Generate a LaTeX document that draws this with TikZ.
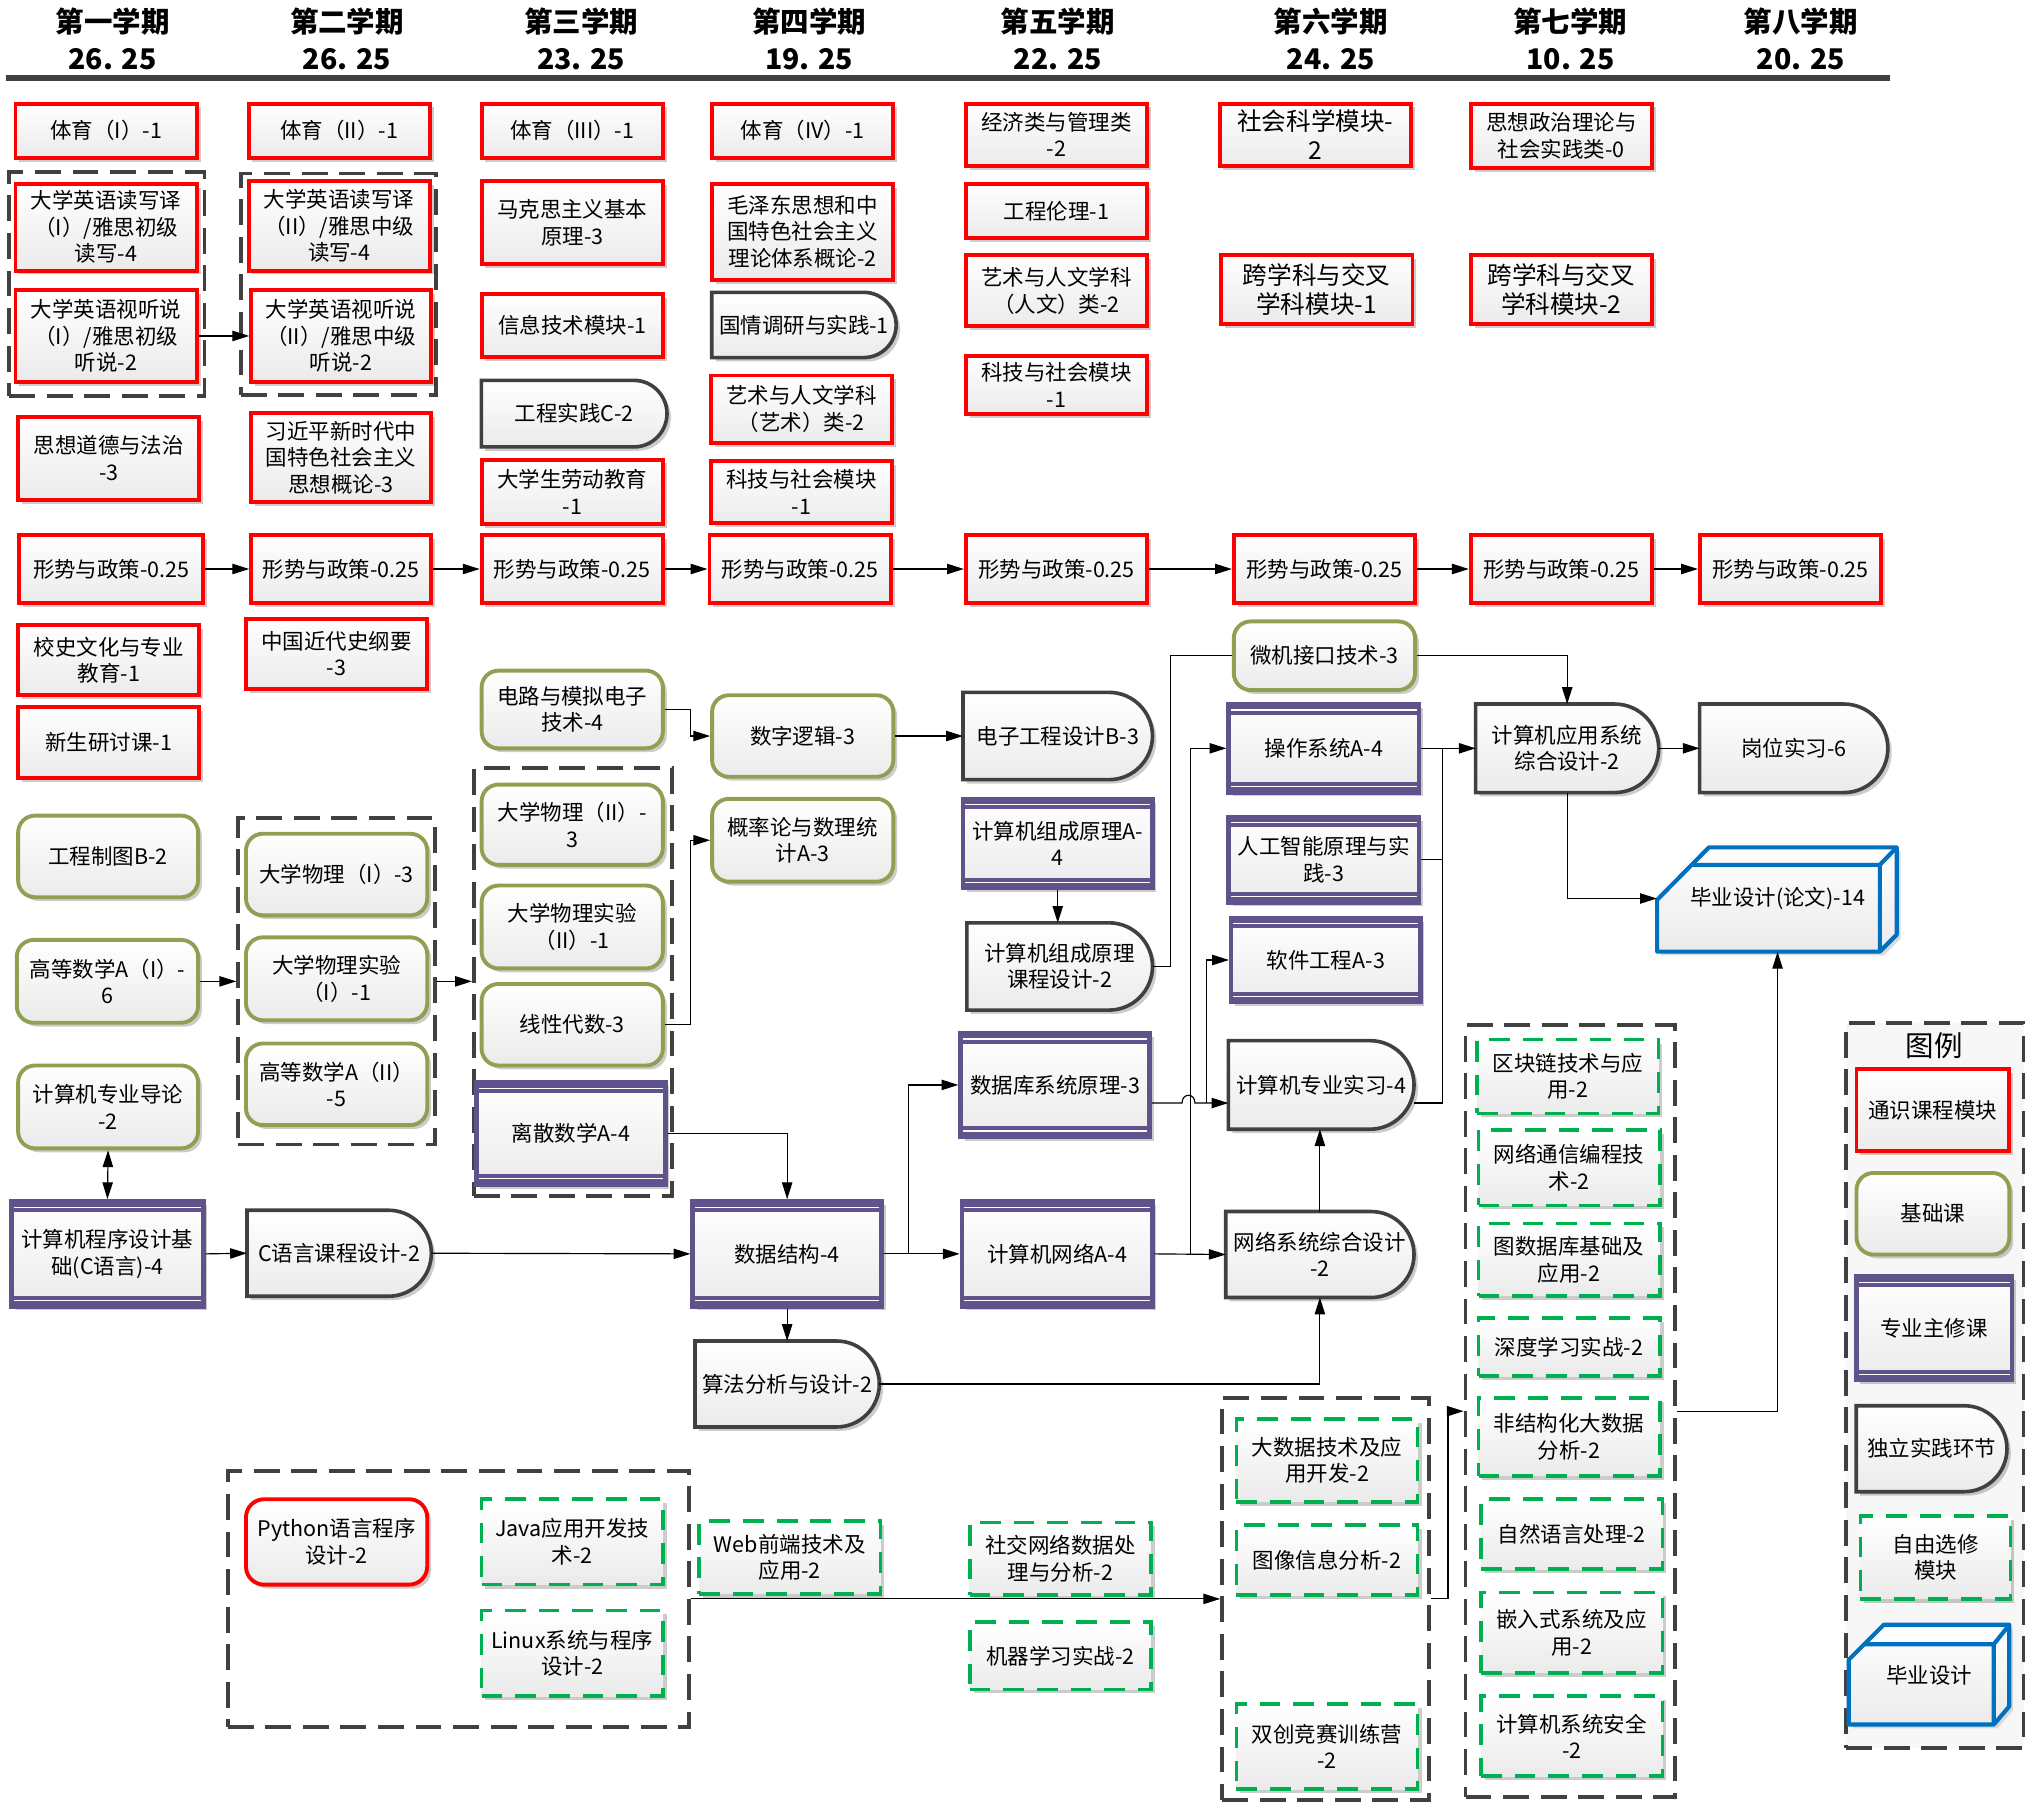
\documentclass[tikz,border=0pt]{standalone}
\usepackage{fontspec}
\setmainfont{Noto Sans CJK SC}
\usetikzlibrary{arrows.meta,shadows,calc}
\definecolor{tred}{RGB}{255,0,0}
\definecolor{olv}{RGB}{142,160,82}
\definecolor{pur}{RGB}{96,82,138}
\definecolor{dkg}{RGB}{64,64,64}
\definecolor{grn}{RGB}{0,176,80}
\definecolor{blu}{RGB}{0,112,192}
\pgfdeclarelayer{background}
\pgfsetlayers{background,main}
\tikzset{
  wh/.style 2 args={minimum width=#1pt, minimum height=#2pt},
  txt/.style={align=center, inner sep=1pt, font=\fontsize{16.6}{20.5}\selectfont},
  shad/.style={drop shadow={shadow xshift=3pt,shadow yshift=-3pt,opacity=.2,fill=black}},
  base/.style={txt, rectangle, top color=white, bottom color=black!8, shad},
  tong/.style={base, draw=tred, line width=3pt},
  jichu/.style={base, rounded corners=13pt, draw=olv, line width=3pt},
  zhuxiu/.style={base, draw=pur, line width=3.5pt,
    path picture={
      \fill[pur] ([yshift=-8pt]path picture bounding box.north west) rectangle (path picture bounding box.north east);
      \fill[pur] ([yshift=8pt]path picture bounding box.south west) rectangle (path picture bounding box.south east);
      \draw[white, line width=1pt] ([yshift=-4.5pt]path picture bounding box.north west) -- ([yshift=-4.5pt]path picture bounding box.north east);
      \draw[white, line width=1pt] ([yshift=4.5pt]path picture bounding box.south west) -- ([yshift=4.5pt]path picture bounding box.south east);
    }},
  shj/.style={txt, rectangle},
  pstyle/.style={draw=dkg, line width=2.8pt, top color=white, bottom color=black!8, shad},
  xuan/.style={base, draw=grn, line width=2.8pt, dash pattern=on 16pt off 10pt},
  grp/.style={rectangle, draw=dkg, line width=3pt, dash pattern=on 20pt off 9pt, inner sep=0pt},
  arr/.style={line width=0.9pt, -{Triangle[length=13pt,width=8pt]}},
  ln/.style={line width=0.9pt},
  big/.style={font=\fontsize{19}{22}\selectfont},
  hdr/.style={inner sep=0pt, font=\fontsize{22}{26}\selectfont\bfseries},
}
% D-shaped outline for practice nodes: #1 node, #2 radius
\newcommand\pshp[2]{%
  \path[pstyle] (#1.south west) -- (#1.north west) -- ($(#1.north east)+(-#2,0)$)
   .. controls ($(#1.north east)+(-0.4477*#2,0)$) and ($(#1.east)+(0,-0.5523*#2)$) .. (#1.east)
   .. controls ($(#1.east)+(0,0.5523*#2)$) and ($(#1.south east)+(-0.4477*#2,0)$) .. ($(#1.south east)+(-#2,0)$) -- cycle;}
\begin{document}
\begin{tikzpicture}[x=1pt,y=-1pt]
\useasboundingbox (0,0) rectangle (1568,1398);

% ---------- header ----------
\node[hdr] (hA) at (87,17) {第一学期};   \node[hdr] (nA) at (87,46) {26. 25};
\node[hdr] (hB) at (268,17) {第二学期};  \node[hdr] (nB) at (268,46) {26. 25};
\node[hdr] (hC) at (449,17) {第三学期};  \node[hdr] (nC) at (449,46) {23. 25};
\node[hdr] (hD) at (625,17) {第四学期};  \node[hdr] (nD) at (625,46) {19. 25};
\node[hdr] (hE) at (817,17) {第五学期};  \node[hdr] (nE) at (817,46) {22. 25};
\node[hdr] (hF) at (1028,17) {第六学期}; \node[hdr] (nF) at (1028,46) {24. 25};
\node[hdr] (hG) at (1213,17) {第七学期}; \node[hdr] (nG) at (1213,46) {10. 25};
\node[hdr] (hH) at (1391,17) {第八学期}; \node[hdr] (nH) at (1391,46) {20. 25};
\draw[dkg, line width=4.5pt] (5,60) -- (1460,60);

% ---------- legend box (background) ----------
\begin{pgfonlayer}{background}
\node[grp, fill=black!3, wh={137}{560}] (lgb) at (1494.5,1070) {};
\end{pgfonlayer}

% ---------- groups ----------
\node[grp,wh={151}{173}] (grp1) at (82.5,219.5) {};
\node[grp,wh={151}{171}] (grp2) at (261.5,219.5) {};
\node[grp,wh={152}{252}] (grp3) at (260,758) {};
\node[grp,wh={153}{331}] (grp4) at (442.5,758.5) {};
\node[grp,wh={160}{310}] (grp6) at (1024,1235) {};
\node[grp,wh={162}{596}] (grp7) at (1213,1090) {};
\node[grp,wh={356}{198}] (grp0) at (354,1235) {};

% ---------- column 1 ----------
\node[tong,wh={140}{42}] (t1) at (82,101) {体育（I）-1};
\node[tong,wh={140}{67}] (e1a) at (82,175.5) {大学英语读写译\\（I）/雅思初级\\读写-4};
\node[tong,wh={140}{71}] (e1b) at (82,259.5) {大学英语视听说\\（I）/雅思初级\\听说-2};
\node[tong,wh={140}{64}] (s1) at (84,354) {思想道德与法治\\-3};
\node[tong,wh={142}{53}] (x1) at (86,439.5) {形势与政策-0.25};
\node[tong,wh={140}{54}] (h1) at (84,510) {校史文化与专业\\教育-1};
\node[tong,wh={140}{55}] (n1) at (84,573.5) {新生研讨课-1};
\node[jichu,wh={139}{63}] (g1) at (83.5,661.5) {工程制图B-2};
\node[jichu,wh={140}{64}] (m1) at (83,758) {高等数学A（I）-\\6};
\node[jichu,wh={139}{64}] (d1) at (83.5,855) {计算机专业导论\\-2};
\node[zhuxiu,wh={148}{81}] (c1) at (83,968.5) {计算机程序设计基\\础(C语言)-4};

% ---------- column 2 ----------
\node[tong,wh={140}{42}] (t2) at (262,101) {体育（II）-1};
\node[tong,wh={140}{69}] (e2a) at (262,174.5) {大学英语读写译\\（II）/雅思中级\\读写-4};
\node[tong,wh={139}{71}] (e2b) at (263.5,259.5) {大学英语视听说\\（II）/雅思中级\\听说-2};
\node[tong,wh={139}{69}] (xi2) at (263.5,353.5) {习近平新时代中\\国特色社会主义\\思想概论-3};
\node[tong,wh={139}{53}] (x2) at (263.5,439.5) {形势与政策-0.25};
\node[tong,wh={140}{54}] (z2) at (260,505) {中国近代史纲要\\-3};
\node[jichu,wh={140}{63}] (p2a) at (260,675.5) {大学物理（I）-3};
\node[jichu,wh={140}{64}] (p2b) at (260,756) {大学物理实验\\（I）-1};
\node[jichu,wh={140}{63}] (p2c) at (260,837.5) {高等数学A（II）\\-5};
\node[shj,wh={142}{66}] (cc2) at (262,968) {C语言课程设计-2};

% ---------- column 3 ----------
\node[tong,wh={140}{42}] (t3) at (442,101) {体育（III）-1};
\node[tong,wh={140}{64}] (mk3) at (442,172) {马克思主义基本\\原理-3};
\node[tong,wh={140}{49}] (it3) at (442,251.5) {信息技术模块-1};
\node[shj,wh={143}{51}] (gc3) at (443.5,319.5) {工程实践C-2};
\node[tong,wh={140}{50}] (ld3) at (442,380) {大学生劳动教育\\-1};
\node[tong,wh={140}{53}] (x3) at (442,439.5) {形势与政策-0.25};
\node[jichu,wh={140}{60}] (dl3) at (442,548) {电路与模拟电子\\技术-4};
\node[jichu,wh={140}{62}] (p3a) at (442,637) {大学物理（II）-\\3};
\node[jichu,wh={140}{64}] (p3b) at (442,716) {大学物理实验\\（II）-1};
\node[jichu,wh={140}{63}] (xd3) at (442,791.5) {线性代数-3};
\node[zhuxiu,wh={146}{79}] (ls3) at (441,875.5) {离散数学A-4};

% ---------- column 4 ----------
\node[tong,wh={140}{42}] (t4) at (620,101) {体育（IV）-1};
\node[tong,wh={140}{74}] (mz4) at (620,179) {毛泽东思想和中\\国特色社会主义\\理论体系概论-2};
\node[shj,wh={142}{50}] (gq4) at (621,251) {国情调研与实践-1};
\node[tong,wh={140}{52}] (ys4) at (619,316) {艺术与人文学科\\（艺术）类-2};
\node[tong,wh={140}{48}] (kj4) at (619,380) {科技与社会模块\\-1};
\node[tong,wh={140}{53}] (x4) at (618,439.5) {形势与政策-0.25};
\node[jichu,wh={140}{63}] (sz4) at (620,568.5) {数字逻辑-3};
\node[jichu,wh={140}{64}] (gl4) at (620,649) {概率论与数理统\\计A-3};
\node[zhuxiu,wh={146}{81}] (sj4) at (608,968.5) {数据结构-4};
\node[shj,wh={142}{66}] (sf4) at (608,1069) {算法分析与设计-2};
\node[xuan,wh={140}{56}] (web) at (610,1203) {Web前端技术及\\应用-2};

% ---------- column 5 ----------
\node[tong,wh={140}{48}] (jj5) at (816,104) {经济类与管理类\\-2};
\node[tong,wh={140}{42}] (gl5) at (816,163) {工程伦理-1};
\node[tong,wh={140}{55}] (ys5) at (816,224.5) {艺术与人文学科\\（人文）类-2};
\node[tong,wh={140}{45}] (kj5) at (816,297.5) {科技与社会模块\\-1};
\node[tong,wh={140}{53}] (x5) at (816,439.5) {形势与政策-0.25};
\node[shj,wh={146}{67}] (dz5) at (817,568.5) {电子工程设计B-3};
\node[zhuxiu,wh={146}{69}] (zc5) at (817,651.5) {计算机组成原理A-\\4};
\node[shj,wh={143}{67}] (zk5) at (818.5,746.5) {计算机组成原理\\课程设计-2};
\node[zhuxiu,wh={146}{80}] (db5) at (815,838) {数据库系统原理-3};
\node[zhuxiu,wh={147}{81}] (wl5) at (816.5,968.5) {计算机网络A-4};
\node[xuan,wh={140}{56}] (sj5) at (819,1204) {社交网络数据处\\理与分析-2};
\node[xuan,wh={140}{52}] (ml5) at (819,1279) {机器学习实战-2};

% ---------- column 6 ----------
\node[tong,big,wh={148}{48}] (sk6) at (1016,104) {社会科学模块-\\2};
\node[tong,big,wh={148}{53}] (kx6) at (1017,223.5) {跨学科与交叉\\学科模块-1};
\node[tong,wh={140}{53}] (x6) at (1023,439.5) {形势与政策-0.25};
\node[jichu,wh={140}{53}] (wj6) at (1023,506.5) {微机接口技术-3};
\node[zhuxiu,wh={147}{68}] (cz6) at (1022.5,578) {操作系统A-4};
\node[zhuxiu,wh={147}{66}] (ai6) at (1022.5,664) {人工智能原理与实\\践-3};
\node[zhuxiu,wh={146}{65}] (rj6) at (1024,741.5) {软件工程A-3};
\node[shj,wh={143}{68}] (sx6) at (1020.5,838) {计算机专业实习-4};
\node[shj,wh={145}{66}] (wx6) at (1019.5,969) {网络系统综合设计\\-2};
\node[xuan,wh={140}{64}] (dsj6) at (1025,1128) {大数据技术及应\\用开发-2};
\node[xuan,wh={140}{54}] (tx6) at (1025,1205) {图像信息分析-2};
\node[xuan,wh={140}{66}] (sc6) at (1025,1349) {双创竞赛训练营\\-2};

% ---------- column 7 ----------
\node[tong,wh={140}{50}] (sz7) at (1206,105) {思想政治理论与\\社会实践类-0};
\node[tong,big,wh={140}{53}] (kx7) at (1206,223.5) {跨学科与交叉\\学科模块-2};
\node[tong,wh={140}{53}] (x7) at (1206,439.5) {形势与政策-0.25};
\node[shj,wh={141}{68}] (yy7) at (1210.5,578) {计算机应用系统\\综合设计-2};
\node[xuan,wh={140}{57}] (qk7) at (1211,831.5) {区块链技术与应\\用-2};
\node[xuan,wh={140}{58}] (tx7) at (1212,902) {网络通信编程技\\术-2};
\node[xuan,wh={140}{56}] (tsj7) at (1212,973) {图数据库基础及\\应用-2};
\node[xuan,wh={140}{45}] (sd7) at (1212,1040.5) {深度学习实战-2};
\node[xuan,wh={140}{60}] (fj7) at (1212,1110) {非结构化大数据\\分析-2};
\node[xuan,wh={140}{54}] (zr7) at (1214,1185) {自然语言处理-2};
\node[xuan,wh={140}{62}] (qr7) at (1214,1261) {嵌入式系统及应\\用-2};
\node[xuan,wh={140}{62}] (aq7) at (1214,1341) {计算机系统安全\\-2};

% ---------- column 8 ----------
\node[tong,wh={140}{53}] (x8) at (1383,439.5) {形势与政策-0.25};
\node[shj,wh={145}{68}] (gw8) at (1385.5,578) {岗位实习-6};

% graduation project 3D box
\fill[black!15] (1283,738) -- (1283,698) -- (1323,657.5) -- (1468,657.5) -- (1468,725) -- (1455,738) -- cycle;
\shade[top color=white,bottom color=black!8] (1280,735) -- (1280,695) -- (1320,654.5) -- (1465,654.5) -- (1465,722) -- (1452,735) -- cycle;
\draw[blu, line width=3.2pt, line join=round] (1280,735) -- (1280,695) -- (1320,654.5) -- (1465,654.5) -- (1465,722) -- (1452,735) -- cycle;
\draw[blu, line width=3.2pt, line join=round] (1306.7,668) -- (1452,668) -- (1465,654.5) (1452,668) -- (1452,735);
\node[inner sep=0pt, minimum width=172pt, minimum height=67pt] (byf) at (1366,701.5) {};
\node[txt] (by8) at (1373,694) {毕业设计(论文)-14};

% ---------- bottom-left electives ----------
\node[tong,rounded corners=14pt,wh={140}{66}] (py) at (260,1191) {Python语言程序\\设计-2};
\node[xuan,wh={140}{66}] (jv) at (442,1191) {Java应用开发技\\术-2};
\node[xuan,wh={140}{66}] (lx) at (442,1277) {Linux系统与程序\\设计-2};

% ---------- legend ----------
\node[inner sep=0pt, font=\fontsize{22}{26}\selectfont] (lgt) at (1494,808) {图例};
\node[tong,wh={118}{63}] (lg1) at (1493,857.5) {通识课程模块};
\node[jichu,wh={118}{63}] (lg2) at (1493,937.5) {基础课};
\node[zhuxiu,wh={120}{80}] (lg3) at (1494,1026) {专业主修课};
\node[shj,wh={116}{66}] (lg4) at (1492,1119) {独立实践环节};
\node[xuan,wh={116}{64}] (lg5) at (1495,1203) {自由选修\\模块};
\fill[black!15] (1431,1335) -- (1431,1285) -- (1458,1258) -- (1555,1258) -- (1555,1321) -- (1543,1335) -- cycle;
\shade[top color=white,bottom color=black!8] (1428,1332) -- (1428,1282) -- (1455,1255) -- (1552,1255) -- (1552,1318) -- (1540,1332) -- cycle;
\draw[blu, line width=3.2pt, line join=round] (1428,1332) -- (1428,1282) -- (1455,1255) -- (1552,1255) -- (1552,1318) -- (1540,1332) -- cycle;
\draw[blu, line width=3.2pt, line join=round] (1440,1270) -- (1540,1270) -- (1552,1255) (1540,1270) -- (1540,1332);
\node[txt] (lg6) at (1490,1294) {毕业设计};

% ---------- practice-node outlines ----------
\begin{pgfonlayer}{background}
\pshp{cc2}{33}
\pshp{gc3}{25.5}
\pshp{gq4}{25}
\pshp{sf4}{33}
\pshp{dz5}{33.5}
\pshp{zk5}{33.5}
\pshp{sx6}{34}
\pshp{wx6}{33}
\pshp{yy7}{34}
\pshp{gw8}{34}
\pshp{lg4}{33}
\end{pgfonlayer}

% ---------- connectors ----------
\draw[arr] (e1b.east) -- (e2b.west);
\foreach \a/\b in {x1/x2,x2/x3,x3/x4,x4/x5,x5/x6,x6/x7,x7/x8}
  \draw[arr] (\a.east) -- (\b.west);
\draw[line width=0.9pt, {Triangle[length=13pt,width=8pt]}-{Triangle[length=13pt,width=8pt]}] (d1.south) -- (c1.north);
\draw[arr] (m1.east) -- (m1.east -| grp3.west);
\draw[arr] (grp3.east) -- (grp3.east -| grp4.west);
\draw[arr] (c1.east) -- (cc2.west);
\draw[arr] (cc2.east) -- (sj4.west);
\draw[arr] (ls3.east) -| (sj4.north);
\draw[arr] (dl3.east) -- ++(20,0) |- (sz4.west);
\draw[arr] (xd3.east) -- ++(20,0) |- (gl4.west);
\draw[arr] (sz4.east) -- (dz5.west);
\draw[arr] (zc5.south) -- (zc5.south |- zk5.north);
\draw[ln] (zk5.east) -- ++(14,0) |- (wj6.west);
\draw[arr] (wj6.east) -| (yy7.north);
\draw[arr] (sj4.east) -- ++(19,0) |- (db5.west);
\draw[arr] (sj4.east) -- (wl5.west);
\draw[arr] (sj4.south) -- (sf4.north);
\draw[arr] (sf4.east) -| (wx6.south);
\draw[arr] (wl5.east) -- (wx6.west);
\coordinate (j3) at ($(wl5.east)+(28,0)$);
\draw[arr] (j3) |- (cz6.west);
\coordinate (j1) at (932,852);
\draw[arr] (db5.east |- j1) -- (913,852) .. controls (913,844) and (923,844) .. (923,852) -- (sx6.west |- j1);
\draw[arr] (j1) |- (rj6.west);
\coordinate (j2) at (1114,578);
\draw[arr] (cz6.east) -- (yy7.west);
\draw[ln] (sx6.east |- j1) -| (j2);
\draw[ln] (ai6.east) -- (ai6.east -| j2);
\draw[arr] (wx6.north) -- (wx6.north |- sx6.south);
\draw[arr] (yy7.east) -- (gw8.west);
\draw[arr] (yy7.south) |- (by8 -| byf.west);
\draw[arr] (grp7.east) -| (by8 |- byf.south);
\draw[arr] (grp6.east) -- ++(13,0) |- (grp7.west);
\draw[arr] (grp0.east) -- (grp6.west);
\end{tikzpicture}
\end{document}
